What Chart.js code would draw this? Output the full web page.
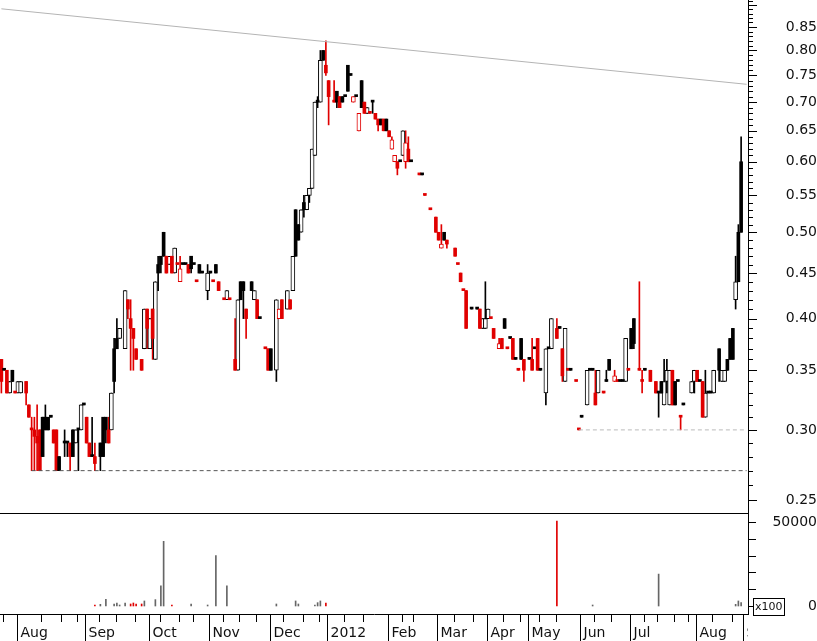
<!DOCTYPE html>
<html lang="en">
<head>
    <meta charset="utf-8">
    <title>Daily price and volume</title>
    <script src="https://cdn.jsdelivr.net/npm/chart.js@4.4.1/dist/chart.umd.min.js"></script>
    <style>
        body { margin: 0; background: #fff; }
        #wrap { width: 817px; height: 641px; }
        canvas { display: block; }
    </style>
</head>
<body>
<div id="wrap">
    <canvas id="priceChart" width="817" height="513"></canvas>
    <canvas id="volumeChart" width="817" height="128"></canvas>
</div>
<script>
    // Daily bars, one entry per trading-day slot (null = no bar drawn)
    const open = [
        0.36, 0.35, 0.35, 0.33, 0.35, 0.33, 0.33, 0.33, null, 0.34,
        0.32, 0.30, 0.30, 0.295, 0.30, 0.31, 0.31, 0.31, 0.31, 0.30,
        0.30, 0.28, null, 0.29, 0.29, 0.29, 0.30, 0.29, 0.30, 0.30,
        0.32, 0.31, 0.29, 0.28, 0.28, null, 0.29, 0.31, 0.31, 0.30,
        0.30, 0.37, 0.38, 0.38, null, 0.37, 0.42, 0.40, 0.39, 0.37,
        null, 0.36, 0.37, 0.41, 0.37, 0.41, 0.36, 0.46, 0.47, 0.50,
        0.47, 0.46, 0.47, 0.45, 0.46, 0.44, 0.46, 0.46, 0.46, 0.47,
        0.46, 0.44, 0.46, 0.45, null, 0.43, 0.45, 0.44, 0.46, 0.44,
        null, 0.42, 0.42, 0.42, null, 0.36, 0.35, 0.44, 0.44, 0.41,
        null, 0.44, 0.42, 0.42, 0.40, null, 0.37, 0.37, 0.37, null,
        0.35, 0.40, 0.42, null, 0.41, 0.42, 0.43, 0.53, 0.51, 0.50,
        0.54, 0.53, 0.55, 0.56, 0.61, 0.70, 0.70, 0.80, 0.77, 0.74,
        null, 0.70, 0.72, 0.71, 0.71, 0.71, 0.77, 0.75, 0.70, 0.71,
        0.65, 0.74, 0.70, 0.68, 0.68, 0.70, 0.68, 0.67, 0.67, 0.67,
        0.67, 0.65, 0.62, 0.60, 0.60, 0.60, 0.61, 0.60, 0.62, 0.60,
        null, null, 0.58, 0.58, 0.55, null, 0.53, null, 0.52, 0.50,
        0.48, 0.50, 0.49, null, null, 0.48, 0.46, 0.45, 0.43, 0.43,
        null, 0.41, null, 0.41, 0.41, 0.39, 0.39, 0.40, 0.40, 0.39,
        null, 0.37, 0.38, 0.40, 0.37, 0.38, 0.38, 0.36, 0.35, 0.38,
        0.36, null, 0.36, 0.36, 0.37, 0.38, 0.35, null, 0.33, 0.37,
        0.37, null, 0.39, 0.39, 0.37, 0.34, 0.35, 0.35, null, 0.34,
        0.30, 0.31, null, 0.32, 0.35, 0.35, 0.33, 0.33, null, 0.33,
        0.34, 0.36, null, 0.34, 0.34, 0.34, 0.34, 0.34, 0.35, 0.39,
        0.40, null, 0.35, 0.34, 0.35, null, 0.35, null, 0.34, 0.33,
        0.34, 0.32, 0.34, 0.32, 0.35, 0.34, 0.34, 0.31, 0.32, null,
        null, 0.33, 0.34, 0.35, 0.34, 0.34, 0.31, 0.33, 0.33, 0.33,
        null, 0.37, 0.34, 0.34, 0.36, 0.38, 0.39, 0.42, 0.50, 0.60,
        null, null
    ];
    const high = [
        0.36, 0.35, 0.35, 0.34, 0.35, 0.33, 0.34, 0.34, null, 0.34,
        0.32, 0.31, 0.31, 0.32, 0.30, 0.31, 0.32, 0.31, 0.31, 0.30,
        0.30, 0.28, null, 0.30, 0.29, 0.29, 0.30, 0.30, 0.30, 0.32,
        0.32, 0.31, 0.29, 0.31, 0.29, null, 0.29, 0.31, 0.31, 0.31,
        0.33, 0.38, 0.40, 0.39, null, 0.43, 0.42, 0.42, 0.39, 0.37,
        null, 0.36, 0.41, 0.41, 0.40, 0.41, 0.44, 0.47, 0.47, 0.50,
        0.47, 0.47, 0.47, 0.48, 0.46, 0.47, 0.46, 0.46, 0.46, 0.47,
        0.46, 0.44, 0.46, 0.45, null, 0.46, 0.45, 0.44, 0.46, 0.44,
        null, 0.42, 0.43, 0.42, null, 0.40, 0.42, 0.44, 0.44, 0.41,
        null, 0.44, 0.43, 0.42, 0.40, null, 0.37, 0.37, 0.37, null,
        0.42, 0.41, 0.42, null, 0.43, 0.42, 0.47, 0.53, 0.51, 0.53,
        0.55, 0.55, 0.56, 0.62, 0.70, 0.71, 0.80, 0.80, 0.82, 0.74,
        null, 0.74, 0.72, 0.71, 0.71, 0.71, 0.77, 0.75, 0.71, 0.71,
        0.68, 0.74, 0.70, 0.69, 0.68, 0.70, 0.68, 0.67, 0.67, 0.67,
        0.67, 0.65, 0.64, 0.61, 0.60, 0.60, 0.65, 0.65, 0.64, 0.60,
        null, null, 0.58, 0.58, 0.55, null, 0.53, null, 0.52, 0.50,
        0.51, 0.50, 0.49, null, null, 0.48, 0.46, 0.45, 0.43, 0.43,
        null, 0.41, null, 0.41, 0.41, 0.40, 0.44, 0.41, 0.40, 0.39,
        null, 0.38, 0.38, 0.40, 0.37, 0.38, 0.38, 0.36, 0.35, 0.38,
        0.36, null, 0.36, 0.38, 0.37, 0.38, 0.35, null, 0.37, 0.37,
        0.40, null, 0.40, 0.39, 0.37, 0.39, 0.35, 0.35, null, 0.34,
        0.30, 0.31, null, 0.35, 0.35, 0.35, 0.35, 0.35, null, 0.33,
        0.35, 0.36, null, 0.35, 0.34, 0.34, 0.34, 0.38, 0.35, 0.39,
        0.40, null, 0.44, 0.35, 0.35, null, 0.35, null, 0.34, 0.33,
        0.34, 0.36, 0.36, 0.35, 0.35, 0.34, 0.34, 0.31, 0.32, null,
        null, 0.34, 0.35, 0.35, 0.34, 0.34, 0.35, 0.33, 0.33, 0.35,
        null, 0.37, 0.35, 0.35, 0.36, 0.38, 0.39, 0.47, 0.51, 0.64,
        null, null
    ];
    const low = [
        0.33, 0.35, 0.33, 0.33, 0.34, 0.33, 0.33, 0.33, null, 0.32,
        0.31, 0.27, 0.27, 0.27, 0.27, 0.28, 0.30, 0.30, 0.31, 0.29,
        0.27, 0.27, null, 0.28, 0.28, 0.27, 0.28, 0.29, 0.27, 0.30,
        0.32, 0.29, 0.28, 0.28, 0.27, null, 0.27, 0.28, 0.29, 0.29,
        0.30, 0.33, 0.37, 0.38, null, 0.37, 0.40, 0.35, 0.35, 0.36,
        null, 0.35, 0.37, 0.37, 0.37, 0.36, 0.36, 0.43, 0.45, 0.47,
        0.45, 0.46, 0.45, 0.45, 0.46, 0.44, 0.46, 0.46, 0.45, 0.45,
        0.46, 0.44, 0.45, 0.45, null, 0.42, 0.45, 0.44, 0.45, 0.43,
        null, 0.42, 0.42, 0.42, null, 0.35, 0.35, 0.42, 0.40, 0.38,
        null, 0.43, 0.42, 0.40, 0.40, null, 0.37, 0.35, 0.35, null,
        0.34, 0.40, 0.40, null, 0.41, 0.41, 0.43, 0.47, 0.49, 0.50,
        0.52, 0.53, 0.54, 0.56, 0.61, 0.69, 0.70, 0.78, 0.75, 0.66,
        null, 0.70, 0.69, 0.69, 0.70, 0.71, 0.72, 0.75, 0.70, 0.71,
        0.65, 0.69, 0.68, 0.68, 0.68, 0.68, 0.67, 0.65, 0.66, 0.65,
        0.65, 0.64, 0.62, 0.60, 0.58, 0.60, 0.61, 0.59, 0.60, 0.60,
        null, null, 0.58, 0.58, 0.55, null, 0.53, null, 0.50, 0.49,
        0.48, 0.49, 0.48, null, null, 0.47, 0.46, 0.44, 0.43, 0.39,
        null, 0.41, null, 0.41, 0.39, 0.39, 0.39, 0.40, 0.40, 0.38,
        null, 0.37, 0.37, 0.39, 0.37, 0.38, 0.36, 0.36, 0.35, 0.36,
        0.34, null, 0.36, 0.35, 0.37, 0.35, 0.35, null, 0.32, 0.37,
        0.37, null, 0.38, 0.39, 0.34, 0.34, 0.35, 0.35, null, 0.34,
        0.30, 0.31, null, 0.32, 0.35, 0.35, 0.32, 0.33, null, 0.33,
        0.34, 0.35, null, 0.34, 0.34, 0.34, 0.34, 0.34, 0.35, 0.37,
        0.37, null, 0.35, 0.33, 0.35, null, 0.34, null, 0.33, 0.31,
        0.33, 0.32, 0.33, 0.32, 0.32, 0.32, 0.34, 0.30, 0.32, null,
        null, 0.33, 0.33, 0.34, 0.34, 0.31, 0.31, 0.33, 0.33, 0.33,
        null, 0.34, 0.34, 0.34, 0.35, 0.36, 0.36, 0.41, 0.44, 0.50,
        null, null
    ];
    const close = [
        0.34, 0.35, 0.33, 0.34, 0.34, 0.33, 0.34, 0.34, null, 0.33,
        0.31, 0.30, 0.295, 0.29, 0.27, 0.28, 0.30, 0.30, 0.31, 0.29,
        0.27, 0.27, null, 0.29, 0.29, 0.28, 0.28, 0.30, 0.30, 0.32,
        0.32, 0.29, 0.28, 0.28, 0.275, null, 0.28, 0.28, 0.30, 0.29,
        0.33, 0.34, 0.37, 0.39, null, 0.43, 0.41, 0.39, 0.38, 0.36,
        null, 0.35, 0.41, 0.39, 0.40, 0.38, 0.44, 0.45, 0.46, 0.47,
        0.45, 0.47, 0.45, 0.48, 0.46, 0.455, 0.46, 0.46, 0.45, 0.455,
        0.46, 0.44, 0.45, 0.45, null, 0.45, 0.45, 0.44, 0.45, 0.43,
        null, 0.42, 0.43, 0.42, null, 0.35, 0.42, 0.42, 0.43, 0.40,
        null, 0.43, 0.43, 0.40, 0.40, null, 0.37, 0.35, 0.35, null,
        0.42, 0.41, 0.40, null, 0.43, 0.41, 0.47, 0.47, 0.49, 0.53,
        0.53, 0.55, 0.56, 0.62, 0.70, 0.70, 0.78, 0.78, 0.755, 0.71,
        null, 0.70, 0.70, 0.69, 0.70, 0.71, 0.72, 0.75, 0.71, 0.71,
        0.68, 0.69, 0.68, 0.69, 0.68, 0.70, 0.67, 0.66, 0.66, 0.65,
        0.65, 0.64, 0.635, 0.61, 0.59, 0.60, 0.65, 0.63, 0.60, 0.60,
        null, null, 0.58, 0.58, 0.55, null, 0.53, null, 0.50, 0.49,
        0.485, 0.49, 0.485, null, null, 0.47, 0.46, 0.44, 0.43, 0.39,
        null, 0.41, null, 0.41, 0.39, 0.40, 0.40, 0.41, 0.40, 0.38,
        null, 0.375, 0.37, 0.39, 0.37, 0.38, 0.36, 0.36, 0.35, 0.36,
        0.35, null, 0.36, 0.35, 0.37, 0.35, 0.35, null, 0.37, 0.37,
        0.40, null, 0.38, 0.39, 0.345, 0.39, 0.35, 0.35, null, 0.34,
        0.30, 0.31, null, 0.35, 0.35, 0.35, 0.32, 0.35, null, 0.33,
        0.34, 0.35, null, 0.345, 0.34, 0.34, 0.34, 0.38, 0.35, 0.37,
        0.375, null, 0.35, 0.34, 0.35, null, 0.34, null, 0.33, 0.33,
        0.33, 0.34, 0.35, 0.35, 0.32, 0.32, 0.34, 0.31, 0.32, null,
        null, 0.34, 0.35, 0.34, 0.34, 0.31, 0.33, 0.33, 0.33, 0.35,
        null, 0.35, 0.35, 0.35, 0.35, 0.36, 0.36, 0.44, 0.44, 0.50,
        null, null
    ];

    // Volume (x100), only the days where a bar is visible
    const volumeDays = [34, 36, 38, 41, 42, 43, 45, 47, 48, 49, 51, 52, 56, 58, 59, 62, 69, 75, 78, 82,
        100, 107, 108, 114, 115, 116, 118, 202, 215, 239, 267, 268, 269];
    const volumeValues = [600, 1000, 4000, 1200, 1800, 600, 1800, 1200, 1800, 1200, 1200, 3000, 3800, 12000, 38500, 600, 1200, 600, 30000, 12000,
        1200, 3000, 1200, 600, 2000, 3000, 1800, 50500, 600, 19000, 1000, 3000, 2000];

    // Axis labels
    const priceTicks = [0.25, 0.30, 0.35, 0.40, 0.45, 0.50, 0.55, 0.60, 0.65, 0.70, 0.75, 0.80, 0.85];
    const volumeTickLabels = [0, 50000];
    const volumeMinorTicks = [0, 10000, 20000, 30000, 40000, 50000];
    const monthStarts = [6, 31, 54, 76, 98, 119, 141, 159, 177, 192, 211, 229, 253, 270];
    const monthLabels = ['Aug', 'Sep', 'Oct', 'Nov', 'Dec', '2012', 'Feb', 'Mar', 'Apr', 'May', 'Jun', 'Jul', 'Aug', 'Sep'];
    const weekStarts = [1, 15, 22, 28, 36, 42, 49, 58, 65, 70, 81, 87, 93, 103, 110, 116, 125, 132, 146, 150, 165, 172,
        183, 189, 196, 202, 216, 222, 234, 239, 245, 250, 259, 266];

    // Trend line (start, end) and dashed support levels
    const trendLine = [0.891, 0.733];
    const supportLevels = [0.27, 0.30];
    const supportFrom = [11, 210];

    const RED = '#e00000';
    const N = close.length;
    const days = Array.from({length: N}, (_, i) => i + 1);

    // black = close at or above previous close, red = below
    const colours = [];
    let prevClose = null;
    for (let i = 0; i < N; i++) {
        if (close[i] == null) { colours.push(null); continue; }
        const ref = prevClose == null ? open[i] : prevClose;
        colours.push(close[i] >= ref ? '#000000' : RED);
        prevClose = close[i];
    }

    const wicks = low.map((l, i) => l == null ? null : [l, high[i]]);
    const filledBodies = open.map((o, i) => (o == null || close[i] > o) ? null : [o, close[i]]);
    const hollowBodies = open.map((o, i) => (o == null || close[i] <= o) ? null : [o, close[i]]);

    const trendData = new Array(N).fill(null);
    trendData[0] = trendLine[0];
    trendData[N - 1] = trendLine[1];
    const supportData = supportLevels.map((lvl, k) => {
        const arr = new Array(N).fill(null);
        arr[supportFrom[k]] = lvl;
        arr[N - 1] = lvl;
        return arr;
    });

    const volume = new Array(N).fill(null);
    volumeDays.forEach((d, k) => { volume[d] = volumeValues[k]; });
    const volumeColours = colours.map(c => c === RED ? RED : '#666666');

    const FONT = 'DejaVu Sans';

    // minor/major tick marks on the price axis
    const priceAxisTicks = {
        id: 'priceAxisTicks',
        afterDraw(chart) {
            const y = chart.scales.y, ctx = chart.ctx, a = chart.chartArea;
            ctx.save();
            ctx.strokeStyle = '#000';
            ctx.lineWidth = 1;
            ctx.beginPath();
            for (let c = 24; c <= 91; c++) {
                const py = Math.round(y.getPixelForValue(c / 100)) + 0.5;
                if (py < a.top || py > a.bottom) continue;
                const len = c % 5 === 0 ? 9 : 5;
                ctx.moveTo(a.right, py);
                ctx.lineTo(a.right + len, py);
            }
            ctx.stroke();
            ctx.restore();
        }
    };

    // pane separator, volume ticks, x100 box, date axis
    const volumeDecor = {
        id: 'volumeDecor',
        afterDraw(chart) {
            const ctx = chart.ctx, a = chart.chartArea;
            const x = chart.scales.x, yv = chart.scales.y;
            const half = (x.getPixelForValue(1) - x.getPixelForValue(0)) / 2;
            const slotLeft = i => Math.round(x.getPixelForValue(i) - half) + 0.5;
            ctx.save();
            ctx.strokeStyle = '#000';
            ctx.lineWidth = 1;
            ctx.beginPath();
            ctx.moveTo(a.left, a.top + 0.5);
            ctx.lineTo(a.right, a.top + 0.5);
            volumeMinorTicks.forEach(v => {
                const py = Math.round(yv.getPixelForValue(v)) + 0.5;
                ctx.moveTo(a.right, py);
                ctx.lineTo(a.right + 8, py);
            });
            weekStarts.forEach(i => {
                const px = slotLeft(i);
                ctx.moveTo(px, a.bottom);
                ctx.lineTo(px, a.bottom + 8);
            });
            monthStarts.forEach(i => {
                const px = slotLeft(i);
                ctx.moveTo(px, a.bottom);
                ctx.lineTo(px, chart.height);
            });
            ctx.stroke();

            // month names, clipped at the price axis
            ctx.save();
            ctx.beginPath();
            ctx.rect(0, a.bottom, a.right, chart.height - a.bottom);
            ctx.clip();
            ctx.fillStyle = '#111';
            ctx.font = '14px "' + FONT + '"';
            ctx.textBaseline = 'alphabetic';
            ctx.textAlign = 'left';
            monthStarts.forEach((i, k) => {
                ctx.fillText(monthLabels[k], slotLeft(i) + 3, a.bottom + 23);
            });
            ctx.restore();

            // x100 multiplier box
            const y0 = Math.round(yv.getPixelForValue(0));
            ctx.fillStyle = '#fff';
            ctx.fillRect(a.right + 5, y0 - 8, 31, 17);
            ctx.strokeRect(a.right + 5.5, y0 - 7.5, 31, 17);
            ctx.fillStyle = '#111';
            ctx.font = '11px "' + FONT + '"';
            ctx.textBaseline = 'middle';
            ctx.fillText('x100', a.right + 7, y0 + 1);
            ctx.restore();
        }
    };

    const hidePlugins = { legend: { display: false }, tooltip: { enabled: false } };

    new Chart(document.getElementById('priceChart'), {
        type: 'bar',
        data: {
            labels: days,
            datasets: [
                { type: 'line', data: trendData, borderColor: '#b4b4b4', borderWidth: 1, pointRadius: 0, spanGaps: true, fill: false, order: 0 },
                { type: 'line', data: supportData[0], borderColor: '#555555', borderWidth: 1, borderDash: [4, 3], pointRadius: 0, spanGaps: true, fill: false, order: 0 },
                { type: 'line', data: supportData[1], borderColor: '#bbbbbb', borderWidth: 1, borderDash: [4, 3], pointRadius: 0, spanGaps: true, fill: false, order: 0 },
                { data: filledBodies, backgroundColor: colours, borderWidth: 0, barThickness: 3, minBarLength: 2, grouped: false, order: 1 },
                { data: hollowBodies, backgroundColor: '#ffffff', borderColor: colours, borderWidth: 1, borderSkipped: false, barThickness: 4, grouped: false, order: 2 },
                { data: wicks, backgroundColor: colours, borderWidth: 0, barThickness: 1, grouped: false, order: 3 }
            ]
        },
        options: {
            responsive: false,
            animation: false,
            devicePixelRatio: 1,
            layout: { padding: 0 },
            plugins: hidePlugins,
            scales: {
                x: { display: false, offset: true },
                y: {
                    type: 'logarithmic',
                    position: 'right',
                    min: 0.242,
                    max: 0.9115,
                    afterBuildTicks: s => { s.ticks = priceTicks.map(v => ({ value: v })); },
                    afterFit: s => { s.width = 69; s.paddingTop = 0; s.paddingBottom = 0; },
                    grid: { display: false, drawTicks: false },
                    border: { display: true, color: '#000', width: 1 },
                    ticks: {
                        autoSkip: false,
                        padding: 33,
                        crossAlign: 'far',
                        color: '#111',
                        font: { family: FONT, size: 14 },
                        callback: v => Number(v).toFixed(2)
                    }
                }
            }
        },
        plugins: [priceAxisTicks]
    });

    new Chart(document.getElementById('volumeChart'), {
        type: 'bar',
        data: {
            labels: days,
            datasets: [{ data: volume, backgroundColor: volumeColours, borderWidth: 0, barThickness: 1 }]
        },
        options: {
            responsive: false,
            animation: false,
            devicePixelRatio: 1,
            layout: { padding: 0 },
            plugins: hidePlugins,
            scales: {
                x: {
                    offset: true,
                    grid: { display: false, drawTicks: false },
                    ticks: { display: false },
                    border: { display: true, color: '#000', width: 1 },
                    afterFit: s => { s.height = 27; }
                },
                y: {
                    position: 'right',
                    min: -4760,
                    max: 55360,
                    afterBuildTicks: s => { s.ticks = volumeTickLabels.map(v => ({ value: v })); },
                    afterFit: s => { s.width = 69; s.paddingTop = 0; s.paddingBottom = 0; },
                    grid: { display: false, drawTicks: false },
                    border: { display: true, color: '#000', width: 1 },
                    ticks: {
                        autoSkip: false,
                        padding: 19,
                        crossAlign: 'far',
                        color: '#111',
                        font: { family: FONT, size: 14 },
                        callback: v => String(v)
                    }
                }
            }
        },
        plugins: [volumeDecor]
    });
</script>
</body>
</html>
